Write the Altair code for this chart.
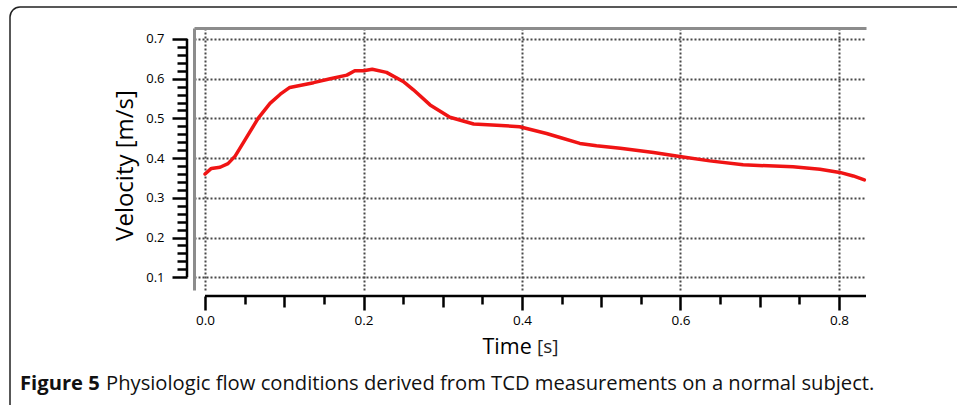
import altair as alt
import pandas as pd

# ---- data ----
time_s = [0.000, 0.008, 0.019, 0.029, 0.038, 0.053, 0.067, 0.082, 0.095, 0.107,
          0.137, 0.158, 0.179, 0.189, 0.200, 0.211, 0.229, 0.250, 0.263, 0.284,
          0.309, 0.339, 0.368, 0.397, 0.431, 0.448, 0.473, 0.494, 0.524, 0.566,
          0.599, 0.637, 0.679, 0.742, 0.776, 0.801, 0.818, 0.832]
velocity = [0.360, 0.374, 0.377, 0.386, 0.405, 0.454, 0.500, 0.538, 0.561, 0.578,
            0.590, 0.600, 0.609, 0.620, 0.620, 0.624, 0.616, 0.593, 0.572, 0.534,
            0.503, 0.486, 0.483, 0.479, 0.462, 0.452, 0.437, 0.431, 0.425, 0.414,
            0.404, 0.393, 0.383, 0.378, 0.372, 0.364, 0.355, 0.345]

x_major = [0.0, 0.2, 0.4, 0.6, 0.8]
x_mid = [0.1, 0.3, 0.5, 0.7]
x_minor = [0.05, 0.15, 0.25, 0.35, 0.45, 0.55, 0.65, 0.75]
y_major = [0.1, 0.2, 0.3, 0.4, 0.5, 0.6, 0.7]
y_minor = [0.12, 0.14, 0.16, 0.18, 0.22, 0.24, 0.26, 0.28, 0.32, 0.34, 0.36, 0.38,
           0.42, 0.44, 0.46, 0.48, 0.52, 0.54, 0.56, 0.58, 0.62, 0.64, 0.66, 0.68]

x_title = "Time"
x_unit = "[s]"
y_title = "Velocity [m/s]"
caption_bold = "Figure 5"
caption_rest = "Physiologic flow conditions derived from TCD measurements on a normal subject."

# ---- layout ----
PL, PT = 194, 28
PW, PH = 672, 262
PR, PB = 957 - PL - PW, 405 - PT - PH
FONT = "Open Sans"
GRID = "#484848"

xs = alt.Scale(domain=[-0.0139, 0.8341], nice=False, zero=False)
ys = alt.Scale(domain=[0.0678, 0.7277], nice=False, zero=False)

df = pd.DataFrame({"t": time_s, "v": velocity})
cap = pd.DataFrame({"bold": [caption_bold], "rest": [caption_rest], "unit": [x_unit]})

common_tick = dict(tickColor="black", tickWidth=2.5, domain=False, labelColor="black",
                   labelFont=FONT)

axis_x_major = alt.Axis(values=x_major, format=".1f", orient="bottom", offset=6,
                        tickSize=14, labelFontSize=13.5, labelPadding=3,
                        labelFlush=False, labelOverlap=False,
                        grid=True, gridColor=GRID, gridDash=[2, 2], gridWidth=2,
                        title=x_title, titleFont=FONT, titleFontSize=21.5,
                        titleFontWeight="normal", titleColor="black",
                        titleX=288, titleY=57, titleAlign="left",
                        titleBaseline="alphabetic", **common_tick)
axis_x_mid = alt.Axis(values=x_mid, orient="bottom", offset=6, tickSize=11,
                      labels=False, grid=False, title=None, **common_tick)
axis_x_minor = alt.Axis(values=x_minor, orient="bottom", offset=6, tickSize=8,
                        labels=False, grid=False, title=None, **common_tick)
axis_top_frame = alt.Axis(orient="top", ticks=False, labels=False, grid=False,
                          domain=True, domainColor="#8c8c8c", domainWidth=3, title=None)

axis_y_major = alt.Axis(values=y_major, format=".1f", orient="left", offset=7,
                        tickSize=15, labelFontSize=13, labelPadding=8,
                        grid=True, gridColor=GRID, gridDash=[2, 2], gridWidth=2,
                        title=y_title, titleFont=FONT, titleFontSize=24,
                        titleFontWeight="normal", titleColor="black",
                        titleX=-62, titleY=137, titleAlign="center",
                        titleBaseline="middle", **common_tick)
axis_y_minor = alt.Axis(values=y_minor, orient="left", offset=7, tickSize=10,
                        labels=False, grid=False, title=None, **common_tick)
axis_left_frame = alt.Axis(orient="left", ticks=False, labels=False, grid=False,
                           domain=True, domainColor="#8c8c8c", domainWidth=3, title=None)

# outer rounded border
border = alt.Chart(cap).mark_rect(fill=None, stroke="#222222", strokeWidth=1.5,
                                  cornerRadius=10).encode(
    x=alt.value(10 - PL), x2=alt.value(980 - PL),
    y=alt.value(7 - PT), y2=alt.value(414 - PT))

top_frame = alt.Chart(df).mark_point(opacity=0).encode(
    x=alt.X("t:Q", scale=xs, axis=axis_top_frame))
left_frame = alt.Chart(df).mark_point(opacity=0).encode(
    y=alt.Y("v:Q", scale=ys, axis=axis_left_frame))

curve = alt.Chart(df).mark_line(color="#f01414", strokeWidth=3.5, strokeJoin="round",
                                strokeCap="round").encode(
    x=alt.X("t:Q", scale=xs, axis=axis_x_major),
    y=alt.Y("v:Q", scale=ys, axis=axis_y_major))

y_line = alt.Chart(pd.DataFrame({"v": y_major})).mark_rule(
    color="black", strokeWidth=2.5).encode(
    y=alt.Y("min(v):Q", scale=ys, axis=axis_y_minor),
    y2=alt.Y2("max(v):Q"),
    x=alt.value(-7))

x_line = alt.Chart(pd.DataFrame({"t": x_major})).mark_rule(
    color="black", strokeWidth=2.5).encode(
    x=alt.X("min(t):Q", scale=xs, axis=axis_x_mid),
    x2=alt.value(PW),
    y=alt.value(PH + 6))

x_minor_layer = alt.Chart(pd.DataFrame({"t": x_minor})).mark_point(opacity=0).encode(
    x=alt.X("t:Q", scale=xs, axis=axis_x_minor))

# unit part of the x title, in a smaller size as in the reference
unit_text = alt.Chart(cap).mark_text(font=FONT, fontSize=19, align="left",
                                     baseline="alphabetic", color="#222222").encode(
    text="unit:N", x=alt.value(537 - PL), y=alt.value(353 - PT))

CAP_SIZE = 20.2
cap_bold = alt.Chart(cap).mark_text(font=FONT, fontSize=CAP_SIZE, fontWeight="bold",
                                    align="left", baseline="alphabetic",
                                    color="#111111").encode(
    text="bold:N", x=alt.value(20 - PL), y=alt.value(390 - PT))
cap_rest = alt.Chart(cap).mark_text(font=FONT, fontSize=CAP_SIZE, fontWeight="normal",
                                    align="left", baseline="alphabetic",
                                    color="#111111").encode(
    text="rest:N", x=alt.value(106 - PL), y=alt.value(390 - PT))

chart = alt.layer(
    border, top_frame, left_frame, curve, y_line, x_line, x_minor_layer,
    unit_text, cap_bold, cap_rest
).resolve_axis(x="independent", y="independent").properties(
    width=PW, height=PH,
    autosize=alt.AutoSizeParams(type="none"),
    padding={"left": PL, "top": PT, "right": PR, "bottom": PB},
    background="white"
).configure_view(stroke=None)

chart.save("out.html", embed_options={"renderer": "svg", "actions": False})
